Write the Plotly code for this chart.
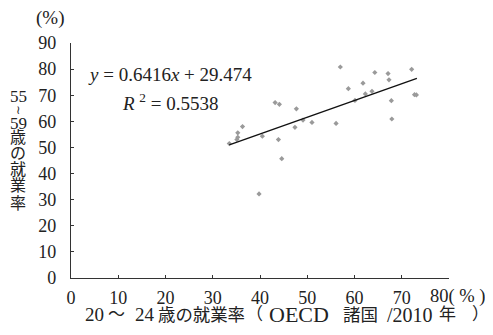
import plotly.graph_objects as go

# Data: employment rate age 20-24 (x) vs age 55-59 (y), OECD 2010
x_rate_20_24 = [33.5, 35.3, 35.3, 35.1, 36.3, 40.5, 43.2, 44.1, 43.9, 44.6,
                39.8, 47.7, 47.4, 49.1, 51.0, 56.1, 57.0, 58.7, 60.1, 61.8,
                62.3, 63.7, 64.3, 67.1, 67.3, 67.8, 67.9, 72.1, 72.7, 73.1]
y_rate_55_59 = [51.5, 55.6, 53.9, 53.0, 58.0, 54.3, 67.2, 66.5, 53.0, 45.7,
                32.2, 64.8, 57.7, 60.5, 59.6, 59.2, 80.8, 72.5, 68.0, 74.6,
                70.5, 71.5, 78.7, 78.3, 75.9, 67.9, 60.9, 79.9, 70.2, 70.1]

slope = 0.6416
intercept = 29.474
r_squared = 0.5538
trend_x = [33.5, 73.2]
trend_y = [slope * v + intercept for v in trend_x]

x_ticks = [0, 10, 20, 30, 40, 50, 60, 70, 80]
x_tick_labels = ["0", "10", "20", "30", "40", "50", "60", "70", ""]
y_ticks = [0, 10, 20, 30, 40, 50, 60, 70, 80, 90]
y_title_chars = ["55", "≀", "59", "歳", "の", "就", "業", "率"]
x_title_parts = ["20", "〜", "24", "歳の就業率", "（", "OECD", "諸国", "/2010", "年", "）"]

FONT = "Liberation Serif, Noto Sans CJK JP, serif"

fig = go.Figure()
fig.add_trace(go.Scatter(x=x_rate_20_24, y=y_rate_55_59, mode="markers",
                         marker=dict(symbol="diamond", size=4, color="#9a9a9a"),
                         showlegend=False, hoverinfo="skip"))
fig.add_trace(go.Scatter(x=trend_x, y=trend_y, mode="lines",
                         line=dict(color="#111111", width=1.4),
                         showlegend=False, hoverinfo="skip"))

OFF = 8  # page body margin
W, H = 493 - OFF, 335 - OFF
L = 70.5 - OFF
T = 43.3 - OFF
R = W - (448.7 - OFF)
B = H - (278.3 - OFF)

fig.update_layout(
    width=W, height=H,
    margin=dict(l=L, r=R, t=T, b=B),
    paper_bgcolor="white", plot_bgcolor="white",
    font=dict(family=FONT, size=18, color="#222222"),
    xaxis=dict(range=[0, 80], tickvals=x_ticks, ticktext=x_tick_labels,
               ticks="inside", ticklen=3,
               tickcolor="#333", showline=True, linecolor="#333", linewidth=1.2,
               showgrid=False, zeroline=False, ticklabelstandoff=3,
               tickfont=dict(size=18)),
    yaxis=dict(range=[0, 90], tickvals=y_ticks, ticks="inside", ticklen=3,
               tickcolor="#333", showline=True, linecolor="#333", linewidth=1.2,
               showgrid=False, zeroline=False, ticklabelstandoff=10,
               tickfont=dict(size=18)),
)

plot_w = W - L - R
plot_h = H - T - B

def px(pix):
    return (pix - OFF - L) / plot_w

def py(pix):
    return 1 - (pix - OFF - T) / plot_h

def note(text, x, y, size, anchor="center"):
    fig.add_annotation(text=text, xref="paper", yref="paper", x=px(x), y=py(y),
                       showarrow=False, xanchor=anchor, yanchor="middle",
                       font=dict(size=size, family=FONT))

note("<i>y</i> = 0.6416<i>x</i> + 29.474", 170, 75, 19)
note("<i>R</i> <sup>2</sup> = 0.5538", 170, 102, 19)

# (%) units
note("(%)", 49, 18, 19)
note("80( % )", 428, 297, 18.5, anchor="left")

# vertical y-axis title
y_centers = [96.5, 110, 123.5, 137.5, 153.5, 169.5, 185.5, 203.5]
y_sizes = [17, 12, 17, 16, 16, 16, 16, 16]
for ch, yc, sz in zip(y_title_chars, y_centers, y_sizes):
    note(ch, 17.5, yc, sz)

# x-axis title, piece by piece
x_starts = [83, 106, 133, 156, 244, 267, 341, 385, 437, 470]
x_sizes = [19, 17, 19, 17.4, 17, 22, 17.5, 20, 17, 17]
for part, xs, sz in zip(x_title_parts, x_starts, x_sizes):
    note(part, xs, 315, sz, anchor="left")

fig.write_html("out.html")
